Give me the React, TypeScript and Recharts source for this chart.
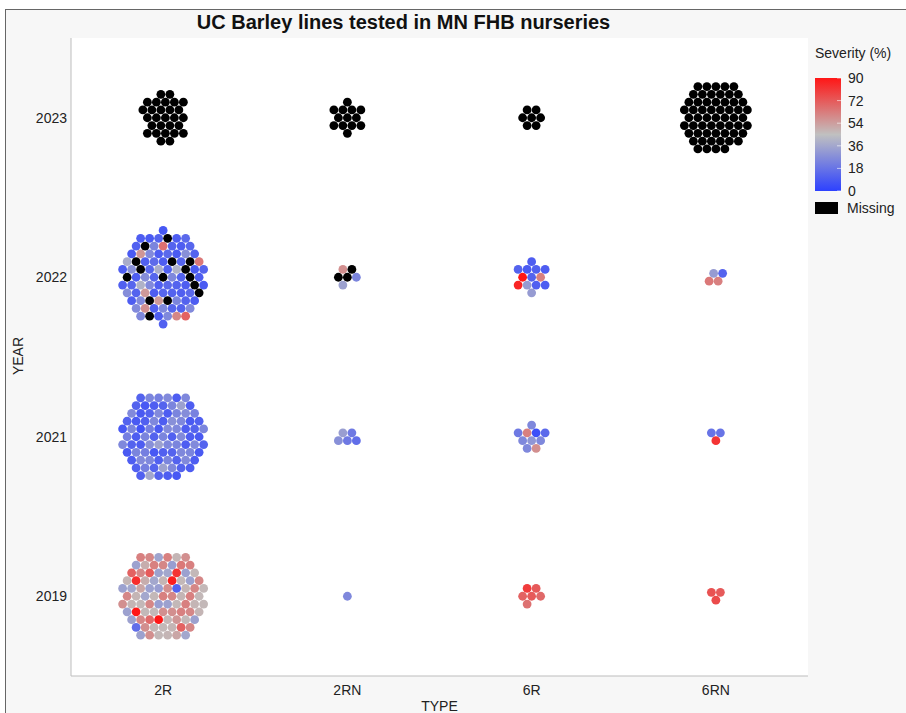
import { ScatterChart, Scatter, XAxis, YAxis, CartesianGrid } from 'recharts';

const types = ['2R', '2RN', '6R', '6RN'];
const years = ['2019', '2021', '2022', '2023'];
const legendTicks = [0, 18, 36, 54, 72, 90];

// FHB severity (%) of each line, read row by row (top to bottom, left to right).
// null = missing value (drawn black)
const sev2R_2023: (number | null)[] = [
  null, null, null,
  null, null, null, null,
  null, null, null, null, null, null,
  null, null, null, null, null, null, null,
  null, null, null, null, null,
  null, null, null,
];
const sev2RN_2023: (number | null)[] = [
  null, null,
  null, null, null, null,
  null, null, null, null,
  null, null, null,
];
const sev6R_2023: (number | null)[] = [
  null, null,
  null, null, null,
  null, null,
];
const sev6RN_2023: (number | null)[] = [
  null,
  null, null, null, null, null, null,
  null, null, null, null, null, null, null,
  null, null, null, null, null, null, null, null,
  null, null, null, null, null, null, null, null, null,
  null, null, null, null, null, null, null, null,
  null, null, null, null, null, null, null,
  null, null, null, null, null, null,
  null, null, null, null, null,
  null,
];

const sev2R_2022: (number | null)[] = [
  8, 10,
  9, 12, null, 10, 14, 11, null,
  24, 66, 12, 10, 13, 9, 56, 26,
  10, 14, 9, 28, 12, 38, null, 11, 15,
  10, null, 12, null, 64, 10, 28, null, 13, 38,
  11, 40, null, 9, 12, null, 10, 27, 13, null,
  25, 12, null, 10, 11, 13, 40, 26, 11, 14,
  12, 10, null, 9, 27, 12, 55, 10, 13, 12,
  11, 14, null, 10, 26, null, 55, null,
  24, 12, 10, 26, 58, 11, 25, 13,
  12, 26, 25, null, 10, 25, 60,
  70, 11,
];
const sev2RN_2022: (number | null)[] = [58, null, null, null, 24, 34];
const sev6R_2022: (number | null)[] = [10, 12, 9, 11, 10, 90, 12, 62, 86, 32, 11, 10, 32];
const sev6RN_2022: (number | null)[] = [32, 12, 64, 62];

const sev2R_2021: (number | null)[] = [
  12,
  24, 22, 26, 10, 25, 12, 8,
  10, 12, 24, 34, 10, 26, 9, 12,
  26, 10, 24, 27, 23, 12, 9, 11, 25,
  10, 28, 25, 9, 11, 8, 24, 6, 22,
  9, 26, 25, 10, 12, 24, 22, 10, 24, 12,
  24, 11, 26, 10, 9, 25, 12, 10, 28, 34,
  25, 24, 10, 26, 12, 9, 24, 22, 8, 11,
  12, 25, 24, 9, 10, 26, 25, 11,
  24, 12, 26, 10, 11, 22, 12, 34,
  25, 12, 10, 11, 36, 12, 10,
  8,
];
const sev2RN_2021: (number | null)[] = [33, 20, 28, 20, 16];
const sev6R_2021: (number | null)[] = [25, 20, 62, 5, 14, 25, 30, 25, 25, 58];
const sev6RN_2021: (number | null)[] = [18, 18, 82];

const sev2R_2019: (number | null)[] = [
  62,
  60, 35, 62, 48, 58, 34, 50,
  62, 60, 33, 64, 62, 70, 60, 72,
  34, 36, 82, 34, 47, 48, 84, 50, 36,
  48, 88, 47, 34, 60, 34, 36, 52, 34,
  33, 58, 12, 48, 60, 47, 60, 48, 36, 47,
  62, 60, 48, 62, 47, 58, 48, 47, 60, 33,
  34, 47, 62, 48, 47, 34, 90, 47, 47, 58,
  58, 62, 60, 48, 34, 60, 68, 90,
  48, 56, 47, 34, 16, 58, 48, 47,
  48, 70, 60, 34, 58, 47, 48,
  52, 36,
];
const sev2RN_2019: (number | null)[] = [25];
const sev6R_2019: (number | null)[] = [80, 72, 70, 72, 68, 66];
const sev6RN_2019: (number | null)[] = [74, 72, 76];

const groups = [
  { type: '2R', year: '2023', values: sev2R_2023 },
  { type: '2RN', year: '2023', values: sev2RN_2023 },
  { type: '6R', year: '2023', values: sev6R_2023 },
  { type: '6RN', year: '2023', values: sev6RN_2023 },
  { type: '2R', year: '2022', values: sev2R_2022 },
  { type: '2RN', year: '2022', values: sev2RN_2022 },
  { type: '6R', year: '2022', values: sev6R_2022 },
  { type: '6RN', year: '2022', values: sev6RN_2022 },
  { type: '2R', year: '2021', values: sev2R_2021 },
  { type: '2RN', year: '2021', values: sev2RN_2021 },
  { type: '6R', year: '2021', values: sev6R_2021 },
  { type: '6RN', year: '2021', values: sev6RN_2021 },
  { type: '2R', year: '2019', values: sev2R_2019 },
  { type: '2RN', year: '2019', values: sev2RN_2019 },
  { type: '6R', year: '2019', values: sev6R_2019 },
  { type: '6RN', year: '2019', values: sev6RN_2019 },
];

// plot box in page pixels
const PLOT_L = 71;
const PLOT_T = 38;
const PLOT_R = 808;
const PLOT_B = 676;
const PX_X = (PLOT_R - PLOT_L) / types.length;
const PX_Y = (PLOT_B - PLOT_T) / years.length;
const GAP = 9; // distance between dot centres, px
const DOT_R = 4.4;

const LOW = [45, 65, 255];
const MID = [192, 192, 192];
const HIGH = [255, 22, 22];

function sevColor(v: number | null) {
  if (v == null) return '#000';
  const t = Math.max(0, Math.min(1, v / 90));
  const [a, b, f] = t < 0.5 ? [LOW, MID, t * 2] : [MID, HIGH, (t - 0.5) * 2];
  const c = a.map((x, i) => Math.round(x + (b[i] - x) * f));
  return `rgb(${c[0]},${c[1]},${c[2]})`;
}

// hexagonal packing: fill lattice cells nearest the centre, then read rows top-down
function hexLayout(n: number) {
  const R = Math.ceil(Math.sqrt(n)) + 3;
  const squash = n > 13 ? 0.93 : 1; // big swarms grow a little taller than wide
  const cells: { x: number; y: number; d: number; a: number }[] = [];
  for (let j = -R; j <= R; j++) {
    for (let i = -R; i <= R; i++) {
      const x = i + (Math.abs(j) % 2) * 0.5;
      const y = (j * Math.sqrt(3)) / 2;
      const a = Math.round((Math.atan2(x, y) * 180) / Math.PI);
      cells.push({ x, y, d: Math.round(Math.hypot(x, y * squash) * 1000), a });
    }
  }
  cells.sort((p, q) => p.d - q.d || Math.abs(p.a) - Math.abs(q.a) || p.a - q.a);
  const pick = cells.slice(0, n);
  const xs = pick.map((c) => c.x);
  const ys = pick.map((c) => c.y);
  const cx = (Math.min(...xs) + Math.max(...xs)) / 2;
  const cy = (Math.min(...ys) + Math.max(...ys)) / 2;
  return pick
    .map((c) => ({ x: c.x - cx, y: c.y - cy }))
    .sort((p, q) => q.y - p.y || p.x - q.x);
}

const points = groups.flatMap((g) => {
  const xi = types.indexOf(g.type) + 0.5;
  const yi = years.indexOf(g.year) + 0.5;
  return hexLayout(g.values.length).map((c, k) => ({
    x: xi + (c.x * GAP) / PX_X,
    y: yi + (c.y * GAP) / PX_Y,
    sev: g.values[k],
  }));
});

const FONT = '"Liberation Sans", Arial, sans-serif';
const FRAME = '#bdbdbd';

const Dot = (props: any) => (
  <circle cx={props.cx} cy={props.cy} r={DOT_R} fill={sevColor(props.payload.sev)} />
);

const LEG_X = 815;
const LEG_TOP = 78;
const LEG_BOT = 191;
const legY = (v: number) => LEG_BOT - (v / 90) * (LEG_BOT - LEG_TOP);

export default function App() {
  return (
    <div
      style={{
        position: 'absolute',
        left: 0,
        top: 0,
        width: 906,
        height: 713,
        overflow: 'hidden',
        background: '#fff',
        fontFamily: FONT,
      }}
    >
      <div
        style={{
          position: 'absolute',
          left: 5,
          top: 9,
          width: 920,
          height: 720,
          background: '#f7f7f7',
          borderLeft: '1px solid #666',
          borderTop: '1px solid #666',
        }}
      />
      <div style={{ position: 'absolute', left: 0, top: 0 }}>
        <ScatterChart
          width={906}
          height={713}
          margin={{ top: PLOT_T, right: 906 - PLOT_R, bottom: 0, left: PLOT_L - 60 }}
        >
          <CartesianGrid fill="#fff" stroke="none" horizontal={false} vertical={false} />
          <XAxis
            type="number"
            dataKey="x"
            domain={[0, types.length]}
            ticks={[0.5, 1.5, 2.5, 3.5]}
            tickFormatter={(v: number) => types[Math.floor(v)]}
            allowDataOverflow
            height={713 - PLOT_B}
            tickLine={false}
            tickSize={6}
            tickMargin={3}
            axisLine={{ stroke: FRAME }}
            tick={{ fontSize: 14, fill: '#222', fontFamily: FONT }}
          />
          <YAxis
            type="number"
            dataKey="y"
            domain={[0, years.length]}
            ticks={[0.5, 1.5, 2.5, 3.5]}
            tickFormatter={(v: number) => years[Math.floor(v)]}
            allowDataOverflow
            width={60}
            tickLine={false}
            tickSize={4}
            tickMargin={0}
            axisLine={{ stroke: FRAME }}
            tick={{ fontSize: 14, fill: '#222', fontFamily: FONT }}
          />
          <XAxis
            xAxisId="top"
            orientation="top"
            type="number"
            domain={[0, types.length]}
            height={0}
            tick={false}
            tickLine={false}
            axisLine={{ stroke: FRAME }}
          />
          <YAxis
            yAxisId="right"
            orientation="right"
            type="number"
            domain={[0, years.length]}
            width={0}
            tick={false}
            tickLine={false}
            axisLine={{ stroke: FRAME }}
          />
          <Scatter data={points} shape={Dot} isAnimationActive={false} />
        </ScatterChart>
      </div>
      <svg
        width={906}
        height={713}
        style={{ position: 'absolute', left: 0, top: 0, pointerEvents: 'none' }}
        fontFamily={FONT}
      >
        <defs>
          <linearGradient id="sevGrad" x1="0" y1="1" x2="0" y2="0">
            {[0, 9, 18, 27, 36, 45, 54, 63, 72, 81, 90].map((v) => (
              <stop key={v} offset={`${(v / 90) * 100}%`} stopColor={sevColor(v)} />
            ))}
          </linearGradient>
        </defs>
        <text x={403.5} y={22} textAnchor="middle" dominantBaseline="central" fontSize={20} fontWeight="bold" fill="#111">
          UC Barley lines tested in MN FHB nurseries
        </text>
        <text x={439.5} y={706} textAnchor="middle" dominantBaseline="central" fontSize={14} fill="#222">
          TYPE
        </text>
        <text
          x={18}
          y={356}
          textAnchor="middle"
          dominantBaseline="central"
          fontSize={14}
          fill="#222"
          transform="rotate(-90 18 356)"
        >
          YEAR
        </text>
        <text x={LEG_X} y={53} dominantBaseline="central" fontSize={14} fill="#222">
          Severity (%)
        </text>
        <rect x={LEG_X} y={LEG_TOP} width={26} height={LEG_BOT - LEG_TOP} fill="url(#sevGrad)" />
        {legendTicks.map((v) => (
          <g key={v}>
            <line x1={LEG_X + 22} x2={LEG_X + 28} y1={legY(v)} y2={legY(v)} stroke="#fff" strokeOpacity={0.6} />
            <text x={LEG_X + 33} y={legY(v)} dominantBaseline="central" fontSize={14} fill="#222">
              {v}
            </text>
          </g>
        ))}
        <rect x={LEG_X} y={202} width={23} height={12} fill="#000" />
        <text x={LEG_X + 32} y={208} dominantBaseline="central" fontSize={14} fill="#222">
          Missing
        </text>
      </svg>
    </div>
  );
}
